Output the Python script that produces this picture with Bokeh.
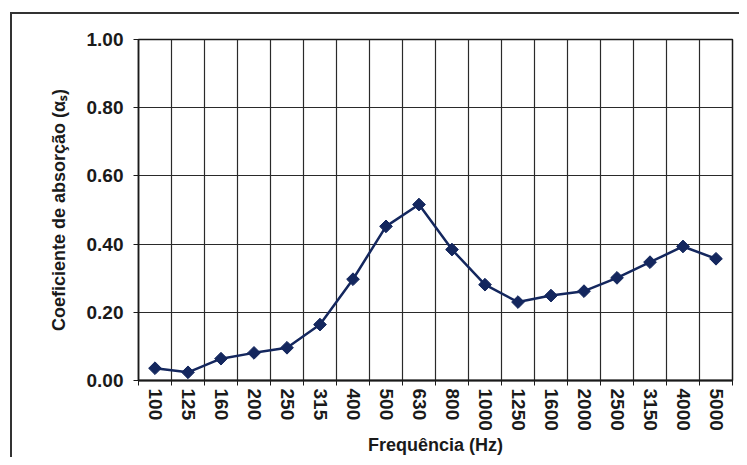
import math
from bokeh.plotting import figure
from bokeh.models import Range1d, FixedTicker
from bokeh.embed import file_html
from bokeh.resources import INLINE

freqs = ["100", "125", "160", "200", "250", "315", "400", "500", "630", "800",
         "1000", "1250", "1600", "2000", "2500", "3150", "4000", "5000"]
alpha = [0.036, 0.024, 0.064, 0.081, 0.096, 0.164, 0.297, 0.452, 0.516, 0.384,
         0.281, 0.230, 0.249, 0.262, 0.301, 0.347, 0.393, 0.357]
y_ticks = [0.0, 0.2, 0.4, 0.6, 0.8, 1.0]
y_labels = ["0.00", "0.20", "0.40", "0.60", "0.80", "1.00"]

n = len(freqs)
xs = [i + 0.5 for i in range(n)]

FONT = "Liberation Sans"
INK = "#1a1a1a"
NAVY = "#14275e"

p = figure(width=739, height=457, output_backend="svg", toolbar_location=None,
           x_range=Range1d(0, n), y_range=Range1d(0, 1),
           min_border_left=138, min_border_right=7, min_border_top=39,
           min_border_bottom=77)

p.background_fill_color = "white"
p.border_fill_alpha = 0
p.outline_line_color = INK
p.outline_line_width = 1.5

# outer chart-area border (only its left and top edges lie inside the window)
p.styles = {
    "background-color": "white",
    "background-image": "linear-gradient(#333333, #333333), linear-gradient(#333333, #333333)",
    "background-position": "10px 12px, 10px 12px",
    "background-size": "2px 100%, 100% 2px",
    "background-repeat": "no-repeat, no-repeat",
}

# x axis: labels at category centres, tick marks at category boundaries
p.xaxis.ticker = FixedTicker(ticks=xs, minor_ticks=list(range(n + 1)))
p.xaxis.major_label_overrides = {x: f for x, f in zip(xs, freqs)}
p.xaxis.major_label_orientation = "vertical"
p.xaxis.major_tick_line_color = None
p.xaxis.major_tick_out = 5
p.xaxis.major_tick_in = 0
p.xaxis.minor_tick_line_color = INK
p.xaxis.minor_tick_out = 5
p.xaxis.minor_tick_in = 0
p.xaxis.major_label_standoff = 3
p.xaxis.axis_line_color = INK
p.xaxis.axis_line_width = 2
p.xaxis.major_label_text_font = FONT
p.xaxis.major_label_text_font_size = "19px"
p.xaxis.major_label_text_font_style = "bold"
p.xaxis.major_label_text_color = INK
p.xaxis.axis_label = "Frequência (Hz)"
p.xaxis.axis_label_text_font = FONT
p.xaxis.axis_label_text_font_size = "18px"
p.xaxis.axis_label_text_font_style = "bold"
p.xaxis.axis_label_text_color = INK
p.xaxis.axis_label_standoff = 1

p.yaxis.ticker = FixedTicker(ticks=y_ticks, minor_ticks=[])
p.yaxis.major_label_overrides = {t: l for t, l in zip(y_ticks, y_labels)}
p.yaxis.major_tick_out = 5
p.yaxis.major_tick_in = 0
p.yaxis.major_tick_line_color = INK
p.yaxis.minor_tick_line_color = None
p.yaxis.major_label_standoff = 10
p.yaxis.axis_line_color = INK
p.yaxis.axis_line_width = 1.5
p.yaxis.major_label_text_font = FONT
p.yaxis.major_label_text_font_size = "19px"
p.yaxis.major_label_text_font_style = "bold"
p.yaxis.major_label_text_color = INK
p.yaxis.axis_label = "Coeficiente de absorção (αₛ)"
p.yaxis.axis_label_text_font = FONT
p.yaxis.axis_label_text_font_size = "18px"
p.yaxis.axis_label_text_font_style = "bold"
p.yaxis.axis_label_text_color = INK
p.yaxis.axis_label_standoff = 15

p.xgrid.ticker = FixedTicker(ticks=list(range(n + 1)))
p.xgrid.grid_line_color = "#2a2a2a"
p.xgrid.grid_line_width = 1.2
p.ygrid.grid_line_color = "#2a2a2a"
p.ygrid.grid_line_width = 1.2

p.line(xs, alpha, line_color=NAVY, line_width=2.5)
p.scatter(xs, alpha, marker="square", angle=math.pi / 4, size=9,
          fill_color=NAVY, line_color=NAVY)

open("out.html", "w").write(file_html(p, INLINE))
